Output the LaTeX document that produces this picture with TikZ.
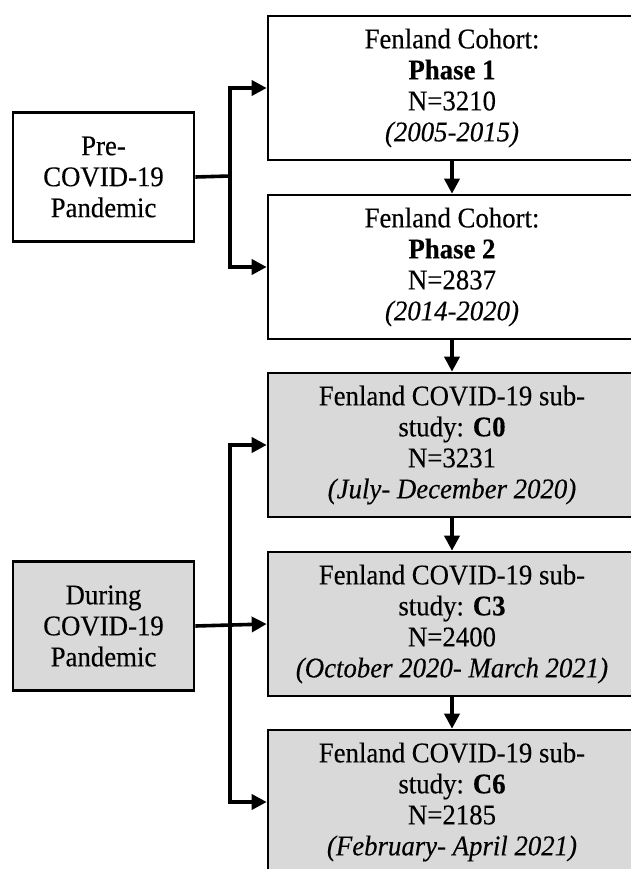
\documentclass[tikz,border=0pt]{standalone}
\usepackage{fontspec}
\setmainfont[FakeStretch=0.94,FakeBold=0.3]{Liberation Serif}
\usetikzlibrary{arrows.meta}
\definecolor{during}{HTML}{D9D9D9}
\tikzset{
  stage/.style={draw, line width=2.6pt, align=center, minimum width=368pt, minimum height=144pt, inner sep=0pt},
  era/.style={draw, line width=2.6pt, align=center, minimum width=181pt, minimum height=129pt, inner sep=0pt},
  link/.style={line width=3.6pt}
}
\begin{document}
\begin{tikzpicture}[x=1pt, y=-1pt, >={Triangle[length=15pt,width=15pt]},
  font=\fontsize{28.5}{31}\selectfont]
\useasboundingbox (0,0) rectangle (630,869);

\node(Pre)[era] at (103.5,177) {Pre-\\COVID-19\\Pandemic};
\node(Dur)[era, fill=during] at (103.5,626) {During\\COVID-19\\Pandemic};

\node(P1)[stage] at (452,88) {Fenland Cohort:\\\textbf{Phase 1}\\N=3210\\\textit{(2005-2015)}};
\node(P2)[stage] at (452,267) {Fenland Cohort:\\\textbf{Phase 2}\\N=2837\\\textit{(2014-2020)}};
\node(C0)[stage, fill=during] at (452,445) {Fenland COVID-19 sub-\\study: \textbf{C0}\\N=3231\\\textit{(July- December 2020)}};
\node(C3)[stage, fill=during] at (452,624) {Fenland COVID-19 sub-\\study: \textbf{C3}\\N=2400\\\textit{(October 2020- March 2021)}};
\node(C6)[stage, fill=during] at (452,802) {Fenland COVID-19 sub-\\study: \textbf{C6}\\N=2185\\\textit{(February- April 2021)}};

\coordinate(J1) at (230,176);
\coordinate(J2) at (230,625);

\draw[link] (Pre.east) -- (J1);
\draw[link,->] (J1) |- (P1.west);
\draw[link,->] (J1) |- (P2.west);

\draw[link] (Dur.east) edge[->] (C3.west);
\draw[link,->] (J2) |- (C0.west);
\draw[link,->] (J2) |- (C6.west);

\draw[link] (P1.south) edge[->] (P2.north);
\draw[link] (P2.south) edge[->] (C0.north);
\draw[link] (C0.south) edge[->] (C3.north);
\draw[link] (C3.south) edge[->] (C6.north);
\end{tikzpicture}
\end{document}
